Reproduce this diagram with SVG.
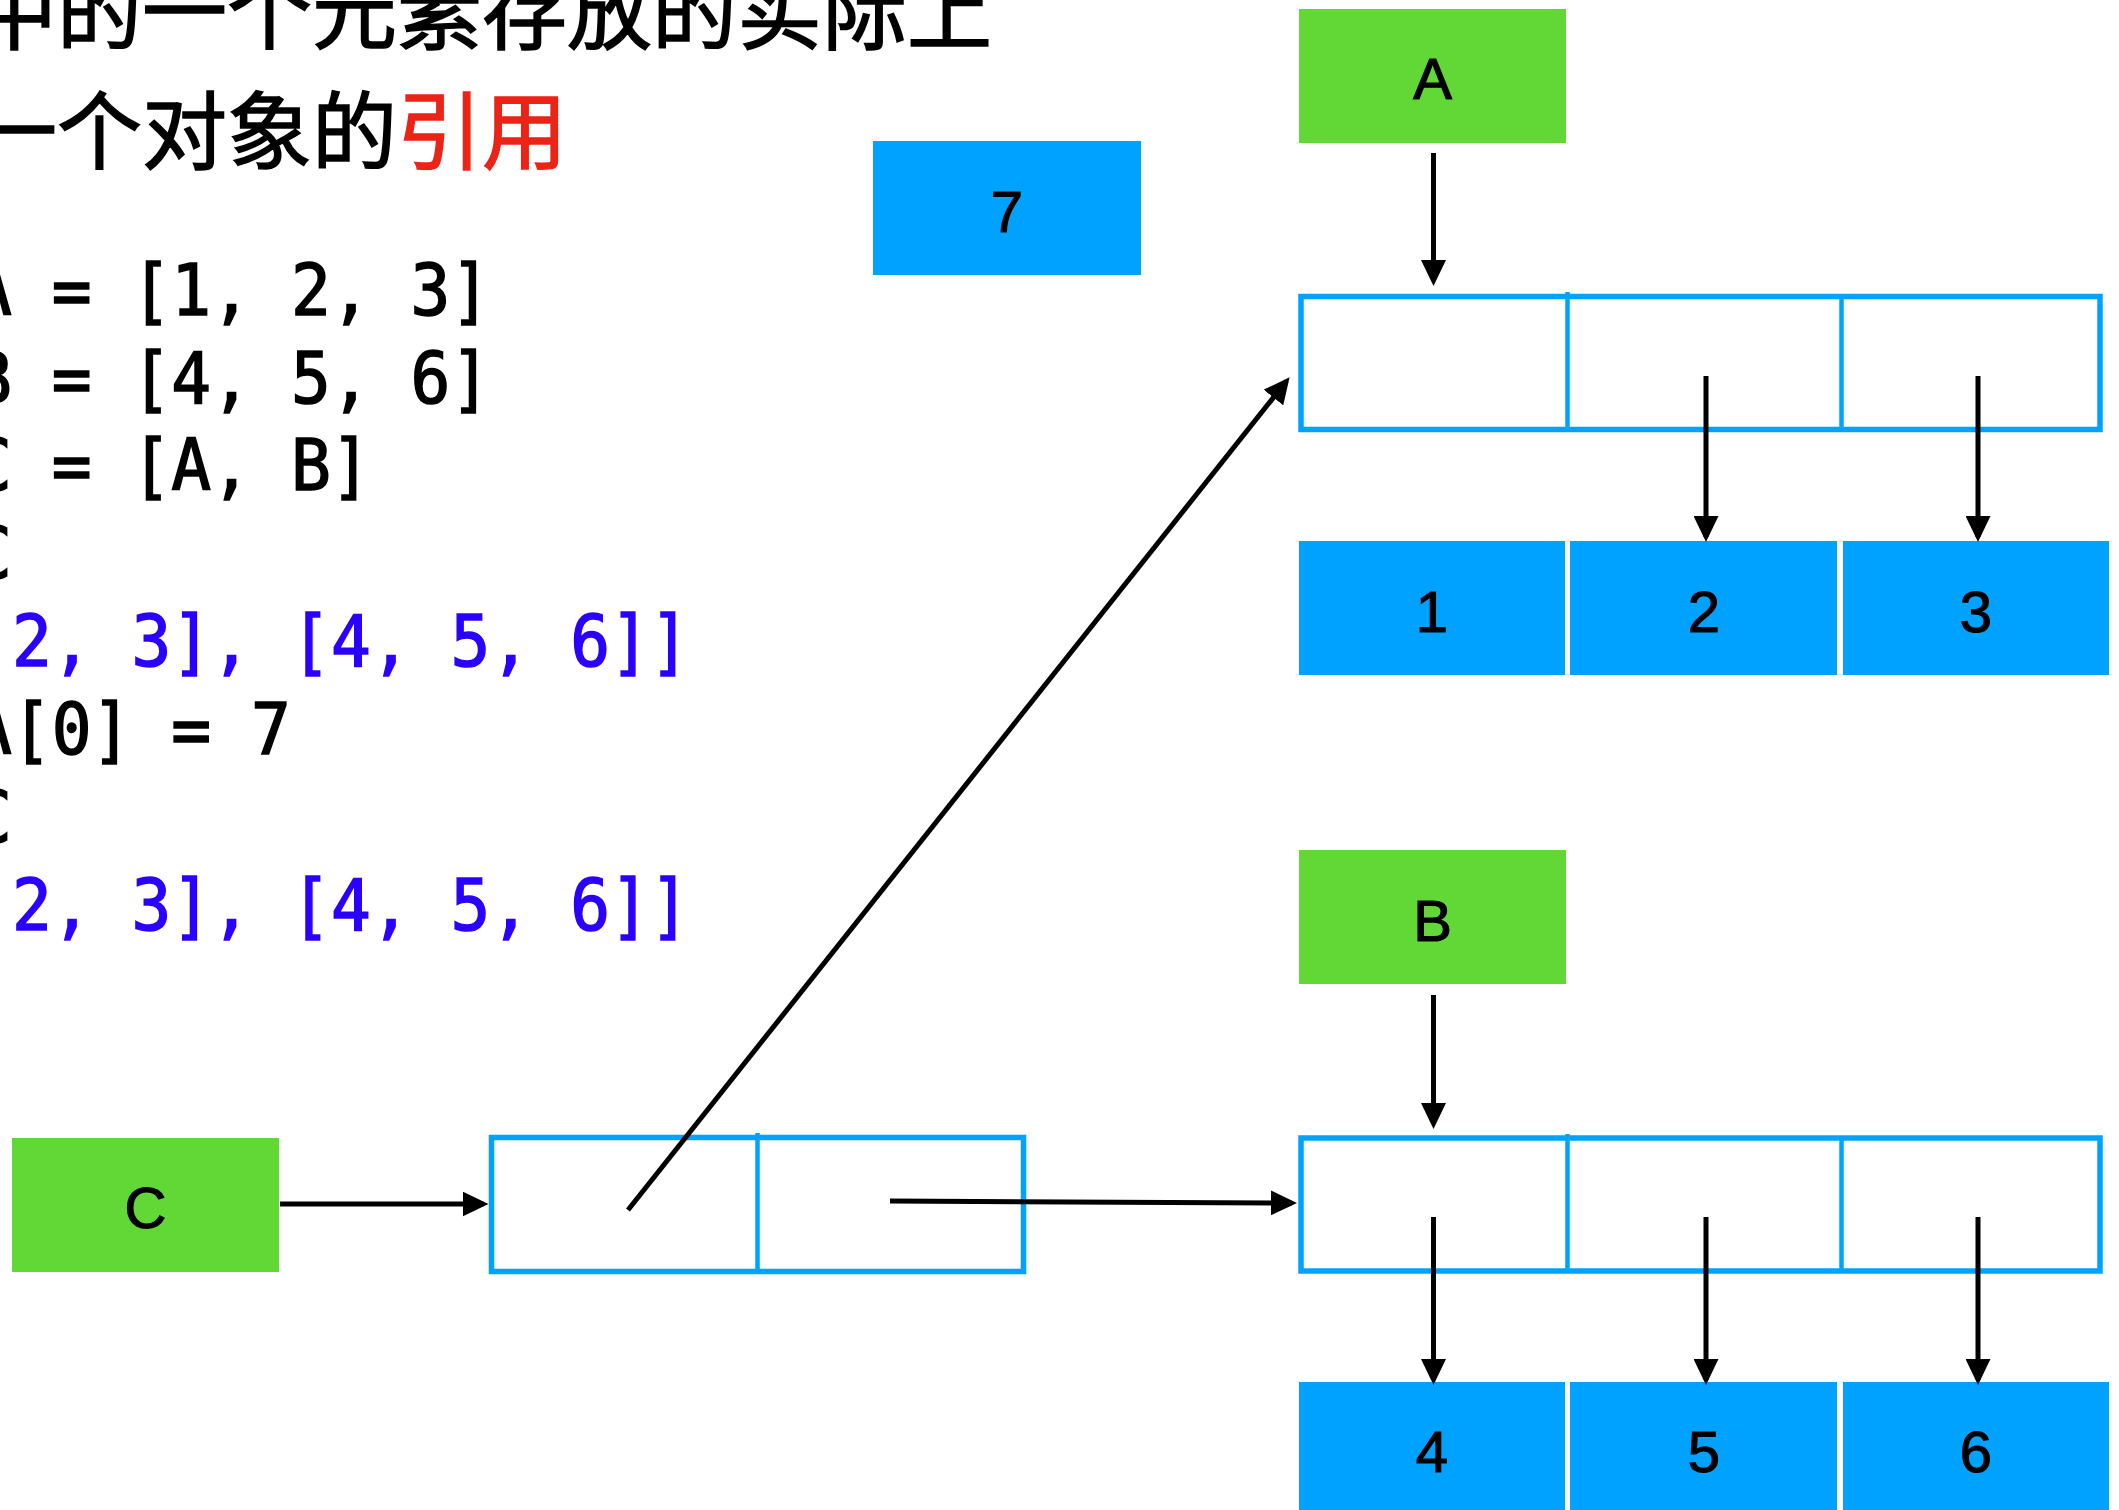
<svg xmlns="http://www.w3.org/2000/svg" width="2119" height="1510" viewBox="0 0 2119 1510">
<defs>
<style>
.green{fill:#62D836}
.blue{fill:#00A2FF}
.lbl{font-family:"Liberation Sans",Arial,sans-serif;font-size:58px;text-anchor:middle;fill:#000;stroke:#000;stroke-width:1.2}
.outline{fill:none;stroke:#00A2FF;stroke-width:5.5}
.div{stroke:#00A2FF;stroke-width:4.5}
.conn{stroke:#000;stroke-width:5;fill:none;marker-end:url(#ah)}
.code{font-family:"DejaVu Sans Mono","Liberation Mono",monospace;font-size:72px;fill:#000;stroke:#000;stroke-width:1.6}
.out{fill:#2A00FF;stroke:#2A00FF}
.title{font-family:"Noto Sans CJK SC","Noto Sans CJK JP",sans-serif;font-size:85px;fill:#000;stroke:#000;stroke-width:1.5}
.red{fill:#EB2417;stroke:#EB2417}
</style>
<marker id="ah" markerUnits="userSpaceOnUse" markerWidth="26" markerHeight="25" refX="21" refY="12.5" orient="auto">
<path d="M0,0 L26,12.5 L0,25 z" fill="#000"/>
</marker>
</defs>
<rect width="2119" height="1510" fill="#fff"/>

<g id="title">
<text class="title" x="-28" y="43">中的一个元素存放的实际上</text>
<text class="title" x="-28" y="163">一个对象的<tspan class="red">引用</tspan></text>
</g>

<g id="code">
<text class="code" transform="translate(-28,315) scale(0.92,1)">A = [1, 2, 3]</text>
<text class="code" transform="translate(-28,403) scale(0.92,1)">B = [4, 5, 6]</text>
<text class="code" transform="translate(-28,490) scale(0.92,1)">C = [A, B]</text>
<text class="code" transform="translate(-28,578) scale(0.92,1)">C</text>
<text class="code out" transform="translate(12,666) scale(0.92,1)">2, 3], [4, 5, 6]]</text>
<text class="code" transform="translate(-28,754) scale(0.92,1)">A[0] = 7</text>
<text class="code" transform="translate(-28,842) scale(0.92,1)">C</text>
<text class="code out" transform="translate(12,930) scale(0.92,1)">2, 3], [4, 5, 6]]</text>
</g>

<g id="node-7">
<rect class="blue" x="873" y="141" width="268" height="134"/>
<text class="lbl" x="1007" y="232">7</text>
</g>

<g id="node-A">
<rect class="green" x="1299" y="9" width="267" height="134"/>
<text class="lbl" x="1432.5" y="99">A</text>
</g>

<g id="node-B">
<rect class="green" x="1299" y="850" width="267" height="134"/>
<text class="lbl" x="1432.5" y="941">B</text>
</g>

<g id="node-C">
<rect class="green" x="12" y="1138" width="267" height="134"/>
<text class="lbl" x="145.5" y="1228">C</text>
</g>

<g id="array-A">
<rect class="outline" x="1301" y="296.5" width="799" height="133"/>
<line class="div" x1="1567.5" y1="292" x2="1567.5" y2="432"/>
<line class="div" x1="1841.5" y1="294" x2="1841.5" y2="432"/>
</g>

<g id="array-B">
<rect class="outline" x="1301" y="1138" width="799" height="133"/>
<line class="div" x1="1567.5" y1="1134" x2="1567.5" y2="1273"/>
<line class="div" x1="1841.5" y1="1136" x2="1841.5" y2="1273"/>
</g>

<g id="array-C">
<rect class="outline" x="491.5" y="1137.5" width="532" height="134"/>
<line class="div" x1="757.5" y1="1133" x2="757.5" y2="1274"/>
</g>

<g id="node-1">
<rect class="blue" x="1299" y="541" width="266" height="134"/>
<text class="lbl" x="1432" y="632">1</text>
</g>
<g id="node-2">
<rect class="blue" x="1570" y="541" width="267" height="134"/>
<text class="lbl" x="1704" y="632">2</text>
</g>
<g id="node-3">
<rect class="blue" x="1843" y="541" width="266" height="134"/>
<text class="lbl" x="1976" y="632">3</text>
</g>
<g id="node-4">
<rect class="blue" x="1299" y="1382" width="266" height="134"/>
<text class="lbl" x="1432" y="1472">4</text>
</g>
<g id="node-5">
<rect class="blue" x="1570" y="1382" width="267" height="134"/>
<text class="lbl" x="1704" y="1472">5</text>
</g>
<g id="node-6">
<rect class="blue" x="1843" y="1382" width="266" height="134"/>
<text class="lbl" x="1976" y="1472">6</text>
</g>

<g id="connectors">
<line class="conn" x1="1433.5" y1="153" x2="1433.5" y2="281"/>
<line class="conn" x1="1433.5" y1="995" x2="1433.5" y2="1124"/>
<line class="conn" x1="1706" y1="376" x2="1706" y2="537"/>
<line class="conn" x1="1978" y1="376" x2="1978" y2="537"/>
<line class="conn" x1="1433.5" y1="1217" x2="1433.5" y2="1380"/>
<line class="conn" x1="1706" y1="1217" x2="1706" y2="1380"/>
<line class="conn" x1="1978" y1="1217" x2="1978" y2="1380"/>
<line class="conn" x1="280" y1="1204" x2="483.5" y2="1204"/>
<line class="conn" x1="628" y1="1210" x2="1286.5" y2="381.1"/>
<line class="conn" x1="890" y1="1201" x2="1292" y2="1203"/>
</g>
</svg>
